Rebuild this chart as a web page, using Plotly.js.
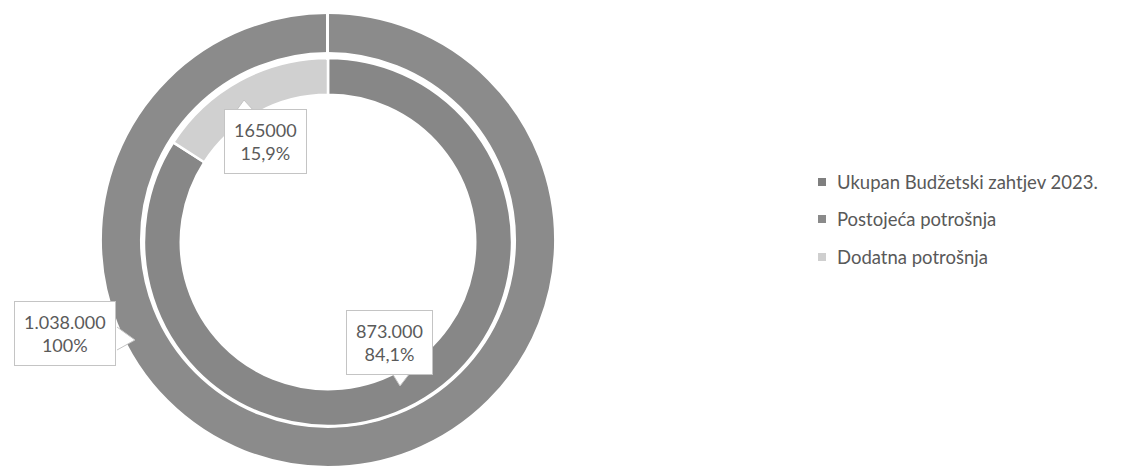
<!DOCTYPE html>
<html>
<head>
<meta charset="utf-8">
<script src="https://cdn.plot.ly/plotly-3.0.1.min.js"></script>
<style>html,body{margin:0;padding:0;background:#fff;}#chart{width:1129px;height:468px;}</style>
</head>
<body>
<div id="chart"></div>
<script>
// Data
var outerLabels = ["Ukupan Budžetski zahtjev 2023."];
var outerValues = [1038000];
var outerPercents = ["100%"];
var outerValueText = ["1.038.000"];

var innerLabels = ["Postojeća potrošnja", "Dodatna potrošnja"];
var innerValues = [873000, 165000];
var innerPercents = ["84,1%", "15,9%"];
var innerValueText = ["873.000", "165000"];

var legendLabels = ["Ukupan Budžetski zahtjev 2023.", "Postojeća potrošnja", "Dodatna potrošnja"];

// Styles
var outerColors = ["#8b8b8b"];
var innerColors = ["#878787", "#d0d0d0"];
var legendColors = ["#7f7f7f", "#8a8a8a", "#cfcfcf"];
var W = 1129, H = 468;
function px(x){return x/W;}
function py(y){return 1 - y/H;}

var traces = [
  {
    type: "pie",
    labels: outerLabels,
    values: outerValues,
    hole: 0.824,
    sort: false,
    direction: "clockwise",
    rotation: 0,
    textinfo: "none",
    hoverinfo: "label+value",
    marker: {colors: outerColors, line: {color: "#ffffff", width: 2}},
    domain: {x: [px(328-227), px(328+227)], y: [py(467), py(13)]},
    showlegend: false
  },
  {
    type: "pie",
    labels: innerLabels,
    values: innerValues,
    hole: 0.80,
    sort: false,
    direction: "clockwise",
    rotation: 0,
    textinfo: "none",
    hoverinfo: "label+value",
    marker: {colors: innerColors, line: {color: "#ffffff", width: 2.5}},
    domain: {x: [px(328-184), px(328+184)], y: [py(426), py(58)]},
    showlegend: false
  }
];

var labelFont = {family: "Lato, 'Noto Sans', sans-serif", size: 18, color: "#5a5a5a"};
var boxPos = [
  {x: 65, y: 333},   // outer
  {x: 389, y: 342},  // postojeca
  {x: 265, y: 141}   // dodatna
];
var annText = [
  outerValueText[0] + "<br>" + outerPercents[0],
  innerValueText[0] + "<br>" + innerPercents[0],
  innerValueText[1] + "<br>" + innerPercents[1]
];

var shapes = [
  {type: "line", xref: "paper", yref: "paper",
   x0: px(327.5), x1: px(327.5), y0: py(10), y1: py(60),
   line: {color: "#ffffff", width: 3}}
];

// callout pointers: open paths so the side touching the box has no stroke
function tri(pts){
  var d = "M" + pts.map(function(p){return px(p[0]) + "," + py(p[1]);}).join(" L");
  return {type: "path", xref: "paper", yref: "paper", path: d,
          fillcolor: "#ffffff", line: {color: "#c4c4c4", width: 1}, layer: "above"};
}
shapes.push(tri([[117, 327], [135, 340], [117, 350]]));
shapes.push(tri([[392, 373], [400, 386], [410, 373]]));
shapes.push(tri([[236, 111], [244, 100], [254, 111]]));

var annotations = annText.map(function(t, i){
  return {
    xref: "paper", yref: "paper",
    x: px(boxPos[i].x), y: py(boxPos[i].y),
    xanchor: "center", yanchor: "middle",
    text: t, showarrow: false,
    font: labelFont,
    bgcolor: "#ffffff",
    bordercolor: "#c4c4c4",
    borderwidth: 1,
    borderpad: 9,
    align: "center"
  };
});

var legendRows = [182, 219, 257];
legendLabels.forEach(function(lbl, i){
  var cy = legendRows[i];
  shapes.push({type: "rect", xref: "paper", yref: "paper",
    x0: px(818), x1: px(826), y0: py(cy+4), y1: py(cy-4),
    fillcolor: legendColors[i], line: {width: 0}});
  annotations.push({
    xref: "paper", yref: "paper", x: px(835), y: py(cy),
    xanchor: "left", yanchor: "middle", showarrow: false,
    text: lbl,
    font: {family: "Lato, 'Noto Sans', sans-serif", size: 18.5, color: "#595959"}
  });
});

var layout = {
  width: W, height: H,
  margin: {l: 0, r: 0, t: 0, b: 0},
  paper_bgcolor: "#ffffff",
  showlegend: false,
  annotations: annotations,
  shapes: shapes
};

Plotly.newPlot("chart", traces, layout, {displayModeBar: false, staticPlot: true});
</script>
</body>
</html>
